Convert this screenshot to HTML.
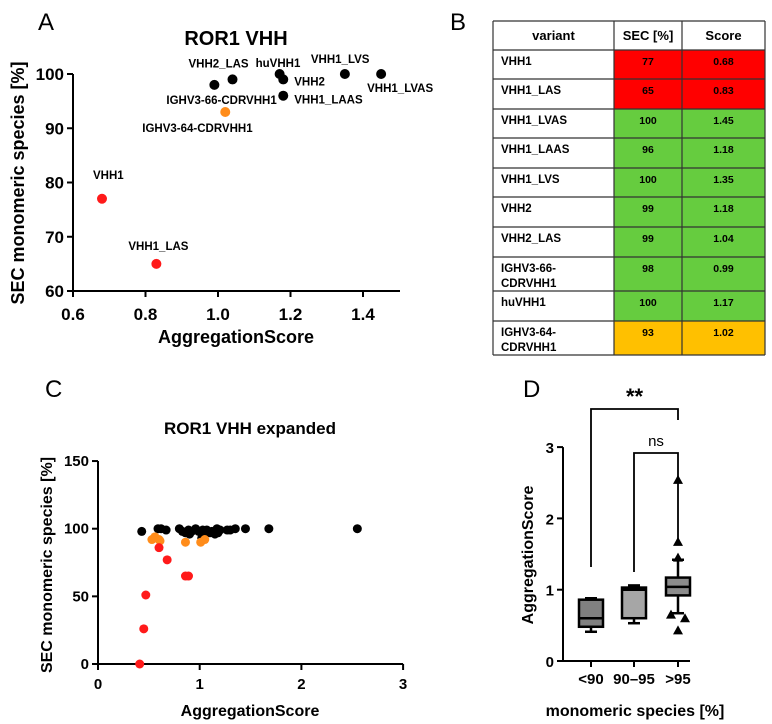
<!DOCTYPE html>
<html><head><meta charset="utf-8">
<style>
body{margin:0;background:#fff;width:772px;height:724px;overflow:hidden;font-family:"Liberation Sans",sans-serif;}
svg{position:absolute;left:0;top:0}
svg text{font-family:"Liberation Sans",sans-serif;}
</style></head>
<body>
<svg id="s" width="772" height="724" viewBox="0 0 772 724">
<text x="38" y="30" font-size="24">A</text>
<text x="450" y="30" font-size="24">B</text>
<text x="45" y="397" font-size="24">C</text>
<text x="523" y="397" font-size="24">D</text>
<g id="gA"></g>
<g id="gB"></g>
<g id="gC"></g>
<g id="gD"></g>
</svg>
<script>
// ---- Panel A data
const aNames=["VHH1","VHH1_LAS","VHH1_LVAS","VHH1_LAAS","VHH1_LVS","VHH2","VHH2_LAS","IGHV3-66-CDRVHH1","huVHH1","IGHV3-64-CDRVHH1"];
const aScore=[0.68,0.83,1.45,1.18,1.35,1.18,1.04,0.99,1.17,1.02];
const aSEC=[77,65,100,96,100,99,99,98,100,93];
const aColor=["red","red","black","black","black","black","black","black","black","orange"];
const aXTicks=[0.6,0.8,1.0,1.2,1.4];
const aYTicks=[60,70,80,90,100];
// ---- Panel C data
const cBlackX=[0.43,0.59,0.62,0.67,0.8,0.83,0.86,0.89,0.9,0.92,0.96,0.99,1.02,1.03,1.05,1.07,1.1,1.12,1.15,1.17,1.18,1.2,1.27,1.3,1.35,1.45,1.68,2.55];
const cBlackY=[98,100,100,99,100,98,97,99,96,98,100,98,93,99,97,99,97,98,96,100,97,99,99,99,100,100,100,100];
const cOrangeX=[0.53,0.56,0.6,0.61,0.86,1.01,1.05];
const cOrangeY=[92,94,92,91,90,90,92];
const cRedX=[0.41,0.45,0.47,0.6,0.68,0.86,0.89];
const cRedY=[0,26,51,86,77,65,65];
const cXTicks=[0,1,2,3];
const cYTicks=[0,50,100,150];
// ---- Panel D data
const dCats=["<90","90–95",">95"];
const dMin=[0.41,0.53,0.67];
const dQ1=[0.48,0.6,0.92];
const dMed=[0.6,1.0,1.04];
const dQ3=[0.86,1.03,1.17];
const dMax=[0.88,1.06,1.42];
const dOutCat=[2,2,2,2,2,2];
const dOutVal=[2.54,1.67,1.45,0.65,0.6,0.43];
const dOutOff=[0,0,0,-1,1,0];
const dYTicks=[0,1,2,3];
const bRows=[["VHH1","77","0.68"],["VHH1_LAS","65","0.83"],["VHH1_LVAS","100","1.45"],["VHH1_LAAS","96","1.18"],["VHH1_LVS","100","1.35"],["VHH2","99","1.18"],["VHH2_LAS","99","1.04"],["IGHV3-66-\nCDRVHH1","98","0.99"],["huVHH1","100","1.17"],["IGHV3-64-\nCDRVHH1","93","1.02"]];
const bColors=["#ff0000","#ff0000","#66cc3f","#66cc3f","#66cc3f","#66cc3f","#66cc3f","#66cc3f","#66cc3f","#ffc000"];

const NS="http://www.w3.org/2000/svg";
function el(p,tag,attrs,txt){const e=document.createElementNS(NS,tag);for(const k in attrs)e.setAttribute(k,attrs[k]);if(txt!==undefined)e.textContent=txt;p.appendChild(e);return e;}
const colMap={red:"#ff1a1a",black:"#000",orange:"#ff8c1a"};

// ===== Panel A
(function(){
const g=document.getElementById('gA');
const X=v=>73+(v-0.6)/0.2*72.5, Y=v=>291-(v-60)*5.425;
let t=el(g,'text',{x:236,y:45,'font-size':20,'font-weight':'bold','text-anchor':'middle'},"ROR1 VHH");

let l=el(g,'line',{x1:73,y1:Y(100),x2:73,y2:291,stroke:'#000','stroke-width':2});

l=el(g,'line',{x1:72,y1:291,x2:400,y2:291,stroke:'#000','stroke-width':2});

aXTicks.forEach(v=>{el(g,'line',{x1:X(v),y1:291,x2:X(v),y2:297,stroke:'#000','stroke-width':2});
 const e=el(g,'text',{x:X(v),y:320,'font-size':17,'font-weight':'bold','text-anchor':'middle'},v.toFixed(1));
 });
aYTicks.forEach(v=>{el(g,'line',{x1:67,y1:Y(v),x2:73,y2:Y(v),stroke:'#000','stroke-width':2});
 const e=el(g,'text',{x:64,y:Y(v)+6,'font-size':17,'font-weight':'bold','text-anchor':'end'},v);
 });
t=el(g,'text',{x:236,y:343,'font-size':18,'font-weight':'bold','text-anchor':'middle'},"AggregationScore");

t=el(g,'text',{x:0,y:0,'font-size':18,'font-weight':'bold','text-anchor':'middle',transform:'translate(24,183) rotate(-90)'},"SEC monomeric species [%]");

const off=[[-9,-20],[-28,-14],[-14,18],[11,8],[-34,-11],[11,6],[-44,-12],[-48,19],[-24,-7],[-83,20]];
aNames.forEach((n,i)=>{
 const c=el(g,'circle',{cx:X(aScore[i]),cy:Y(aSEC[i]),r:5,fill:colMap[aColor[i]]});
 
 
 const e=el(g,'text',{x:X(aScore[i])+off[i][0],y:Y(aSEC[i])+off[i][1],'font-size':11.5,'font-weight':'bold'},n);
 
 
});
})();

// ===== Panel B table
(function(){
const g=document.getElementById('gB');
const xs=[493,614,682,765];
const ys=[21,50,79,109,138,168,197,227,257,291,321,355];
const hdr=["variant","SEC [%]","Score"];
for(let i=0;i<3;i++){const e=el(g,'text',{x:(xs[i]+xs[i+1])/2,y:40,'font-size':13,'font-weight':'bold','text-anchor':'middle'},hdr[i]);
 }
bRows.forEach((r,i)=>{
 const y0=ys[i+1],y1=ys[i+2];
 el(g,'rect',{x:xs[1],y:y0,width:xs[3]-xs[1],height:y1-y0,fill:bColors[i]});
 const lines=r[0].split("\n");
 lines.forEach((ln,j)=>{const e=el(g,'text',{x:xs[0]+8,y:y0+15+j*15,'font-size':11.5,'font-weight':'bold'},ln);
  });
 for(let k=1;k<3;k++){const e=el(g,'text',{x:(xs[k]+xs[k+1])/2,y:y0+15,'font-size':10.5,'font-weight':'bold','text-anchor':'middle'},r[k]);
  }
});
ys.forEach(y=>el(g,'line',{x1:xs[0],y1:y,x2:xs[3],y2:y,stroke:'#333','stroke-width':1.2}));
xs.forEach(x=>el(g,'line',{x1:x,y1:ys[0],x2:x,y2:ys[ys.length-1],stroke:'#333','stroke-width':1.2}));
})();

// ===== Panel C
(function(){
const g=document.getElementById('gC');
const X=v=>98+v*101.7, Y=v=>664-v*1.353;
let t=el(g,'text',{x:250,y:434,'font-size':17,'font-weight':'bold','text-anchor':'middle'},"ROR1 VHH expanded");

let l=el(g,'line',{x1:98,y1:Y(150),x2:98,y2:664,stroke:'#000','stroke-width':2});

l=el(g,'line',{x1:97,y1:664,x2:X(3),y2:664,stroke:'#000','stroke-width':2});

cXTicks.forEach(v=>{el(g,'line',{x1:X(v),y1:664,x2:X(v),y2:670,stroke:'#000','stroke-width':2});
 const e=el(g,'text',{x:X(v),y:689,'font-size':15,'font-weight':'bold','text-anchor':'middle'},v);
 });
cYTicks.forEach(v=>{el(g,'line',{x1:92,y1:Y(v),x2:98,y2:Y(v),stroke:'#000','stroke-width':2});
 const e=el(g,'text',{x:89,y:Y(v)+5,'font-size':15,'font-weight':'bold','text-anchor':'end'},v);
 });
t=el(g,'text',{x:250,y:716,'font-size':16,'font-weight':'bold','text-anchor':'middle'},"AggregationScore");

t=el(g,'text',{x:0,y:0,'font-size':16,'font-weight':'bold','text-anchor':'middle',transform:'translate(52,565) rotate(-90)'},"SEC monomeric species [%]");

cBlackX.forEach((x,i)=>{const c=el(g,'circle',{cx:X(x),cy:Y(cBlackY[i]),r:4.5,fill:'#000'});
 });
cOrangeX.forEach((x,i)=>{const c=el(g,'circle',{cx:X(x),cy:Y(cOrangeY[i]),r:4.5,fill:'#ff8c1a'});
 });
cRedX.forEach((x,i)=>{const c=el(g,'circle',{cx:X(x),cy:Y(cRedY[i]),r:4.5,fill:'#ff1a1a'});
 });
})();

// ===== Panel D
(function(){
const g=document.getElementById('gD');
const Y=v=>661-v*71.3;
const CX=[591,634,678];
let l=el(g,'line',{x1:563,y1:Y(3),x2:563,y2:661,stroke:'#000','stroke-width':2});

l=el(g,'line',{x1:562,y1:661,x2:690,y2:661,stroke:'#000','stroke-width':2});

dYTicks.forEach(v=>{el(g,'line',{x1:557,y1:Y(v),x2:563,y2:Y(v),stroke:'#000','stroke-width':2});
 const e=el(g,'text',{x:554,y:Y(v)+6,'font-size':15,'text-anchor':'end','font-weight':'bold'},v);
 });
const fills=["#808080","#a6a6a6","#8c8c8c"];
dCats.forEach((c,i)=>{
 const x=CX[i];
 el(g,'line',{x1:x,y1:661,x2:x,y2:667,stroke:'#000','stroke-width':2});
 const e=el(g,'text',{x:x,y:684,'font-size':15,'font-weight':'bold','text-anchor':'middle'},c);
 
 el(g,'line',{x1:x,y1:Y(dMin[i]),x2:x,y2:Y(dMax[i]),stroke:'#000','stroke-width':2.5});
 el(g,'line',{x1:x-6,y1:Y(dMin[i]),x2:x+6,y2:Y(dMin[i]),stroke:'#000','stroke-width':2.5});
 el(g,'line',{x1:x-6,y1:Y(dMax[i]),x2:x+6,y2:Y(dMax[i]),stroke:'#000','stroke-width':2.5});
 const r=el(g,'rect',{x:x-12,y:Y(dQ3[i]),width:24,height:Y(dQ1[i])-Y(dQ3[i]),fill:fills[i],stroke:'#000','stroke-width':2.5});
 
 el(g,'line',{x1:x-12,y1:Y(dMed[i]),x2:x+12,y2:Y(dMed[i]),stroke:'#000','stroke-width':2.5});
});
dOutVal.forEach((v,i)=>{const x=CX[dOutCat[i]]+dOutOff[i]*7,y=Y(v);
 const p=el(g,'polygon',{points:`${x},${y-5} ${x-5},${y+4} ${x+5},${y+4}`,fill:'#000'});
 });
let b=el(g,'polyline',{points:`${CX[0]},567 ${CX[0]},409 ${CX[2]},409 ${CX[2]},420`,fill:'none',stroke:'#000','stroke-width':1.8});

let t=el(g,'text',{x:(CX[0]+CX[2])/2,y:404,'font-size':22,'font-weight':'bold','text-anchor':'middle'},"**");

b=el(g,'polyline',{points:`${CX[1]},572 ${CX[1]},453 ${CX[2]},453 ${CX[2]},${Y(dOutVal[1])}`,fill:'none',stroke:'#000','stroke-width':1.8});

t=el(g,'text',{x:(CX[1]+CX[2])/2,y:446,'font-size':15,'text-anchor':'middle'},"ns");

t=el(g,'text',{x:0,y:0,'font-size':16,'font-weight':'bold','text-anchor':'middle',transform:'translate(533,555) rotate(-90)'},"AggregationScore");

t=el(g,'text',{x:635,y:716,'font-size':16,'font-weight':'bold','text-anchor':'middle'},"monomeric species [%]");

})();
</script>
</body></html>
